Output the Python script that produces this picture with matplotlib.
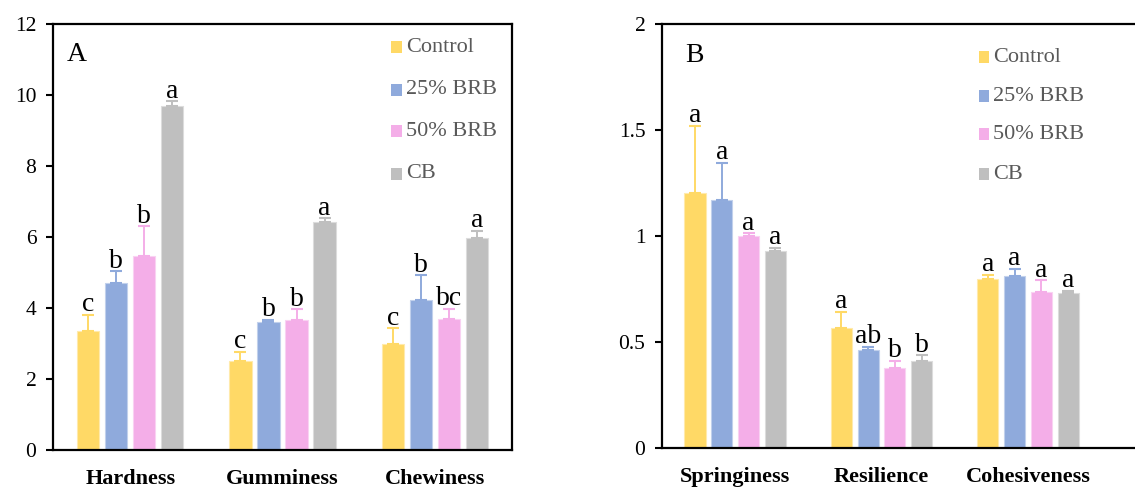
import matplotlib
matplotlib.use("Agg")
import matplotlib.pyplot as plt
import numpy as np
from matplotlib.colors import to_rgb
from matplotlib.patches import Rectangle

plt.rcParams['font.family'] = ['Liberation Serif', 'DejaVu Serif']

series = ["Control", "25% BRB", "50% BRB", "CB"]
colors = ["#FFD966", "#8FAADC", "#F4AEE8", "#BFBFBF"]

cats_a = ["Hardness", "Gumminess", "Chewiness"]
vals_a = [
    [3.36, 2.51, 2.99],   # Control
    [4.70, 3.60, 4.23],   # 25% BRB
    [5.47, 3.67, 3.68],   # 50% BRB
    [9.70, 6.42, 5.98],   # CB
]
errs_a = [
    [0.45, 0.26, 0.44],
    [0.33, 0.07, 0.70],
    [0.83, 0.30, 0.30],
    [0.12, 0.11, 0.20],
]
lets_a = [
    ["c", "c", "c"],
    ["b", "b", "b"],
    ["b", "b", "bc"],
    ["a", "a", "a"],
]

cats_b = ["Springiness", "Resilience", "Cohesiveness"]
vals_b = [
    [1.204, 0.568, 0.796],
    [1.172, 0.464, 0.812],
    [1.002, 0.378, 0.735],
    [0.930, 0.412, 0.729],
]
errs_b = [
    [0.315, 0.074, 0.022],
    [0.173, 0.013, 0.033],
    [0.010, 0.033, 0.056],
    [0.014, 0.025, 0.012],
]
lets_b = [
    ["a", "a", "a"],
    ["a", "ab", "a"],
    ["a", "b", "a"],
    ["a", "b", "a"],
]

W, H = 1135, 488
fig = plt.figure(figsize=(W / 100, H / 100), dpi=100)

axA = fig.add_axes([53 / W, 1 - 450 / H, 459 / W, 426 / H])
axB = fig.add_axes([662 / W, 1 - 448 / H, 483 / W, 424 / H])


def lighten(c, f=0.45):
    r, g, b = to_rgb(c)
    return (r + (1 - r) * f, g + (1 - g) * f, b + (1 - b) * f)


def draw(ax, cats, vals, errs, lets, ylim, yticks, yticklabels, xlim,
         panel, plabel_xy, leg_mx, leg_tx, leg_ys, leg_w, leg_h, spacing, width):
    x = np.arange(len(cats))
    for i, s in enumerate(series):
        xs = x + (i - 1.5) * spacing
        ax.bar(xs, vals[i], width, color=colors[i], edgecolor=lighten(colors[i]),
               linewidth=0.8, zorder=2)
        ax.errorbar(xs, vals[i], yerr=[np.zeros(len(cats)), errs[i]], fmt='none',
                    ecolor=colors[i], elinewidth=1.4, capsize=4, capthick=1.5, zorder=3)
        for xi, v, e, l in zip(xs, vals[i], errs[i], lets[i]):
            ax.annotate(l, (xi, v + e), xytext=(0, 2.5), textcoords='offset points',
                        ha='center', va='baseline', fontsize=20, color='black')
    ax.set_xlim(*xlim)
    ax.set_ylim(*ylim)
    ax.set_yticks(yticks)
    ax.set_yticklabels(yticklabels)
    ax.set_xticks(x)
    ax.set_xticklabels(cats, fontsize=16, fontweight='bold')
    ax.tick_params(axis='x', length=0, pad=14)
    ax.tick_params(axis='y', direction='out', length=5, width=1.5, labelsize=15.5, pad=7)
    for sp in ax.spines.values():
        sp.set_linewidth(1.6)
    ax.text(plabel_xy[0], plabel_xy[1], panel, transform=ax.transAxes,
            fontsize=20, va='baseline', ha='left')
    for i, s in enumerate(series):
        yc = leg_ys[i]
        ax.add_patch(Rectangle((leg_mx, yc - leg_h / 2), leg_w, leg_h,
                               transform=ax.transAxes, facecolor=colors[i],
                               edgecolor='none', clip_on=False))
        ax.text(leg_tx, yc, s, transform=ax.transAxes, fontsize=16,
                color='#595959', va='center', ha='left')


draw(axA, cats_a, vals_a, errs_a, lets_a, (0, 12), [0, 2, 4, 6, 8, 10, 12],
     ["0", "2", "4", "6", "8", "10", "12"], (-0.507, 2.507),
     "A", (0.030, 0.913), 0.736, 0.769, [0.945, 0.846, 0.748, 0.648], 0.024, 0.028,
     0.184, 0.145)

draw(axB, cats_b, vals_b, errs_b, lets_b, (0, 2), [0, 0.5, 1, 1.5, 2],
     ["0", "0.5", "1", "1.5", "2"], (-0.5, 2.80),
     "B", (0.048, 0.910), 0.657, 0.686, [0.922, 0.830, 0.740, 0.646], 0.021, 0.028,
     0.183, 0.144)

fig.savefig("out.png", dpi=100)
